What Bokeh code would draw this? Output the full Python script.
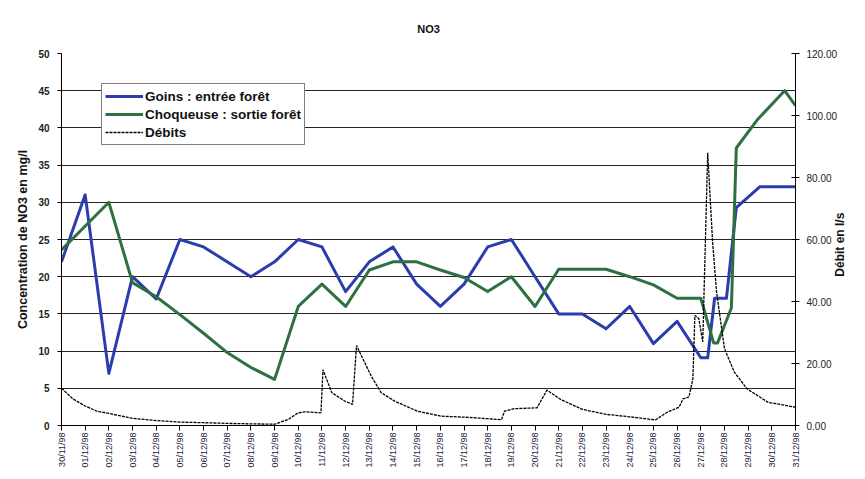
import math
import pandas as pd
from bokeh.plotting import figure
from bokeh.models import (Range1d, LinearAxis, FixedTicker, DatetimeTickFormatter,
                          PrintfTickFormatter)
from bokeh.embed import file_html
from bokeh.resources import INLINE

# ---------------- data ----------------
tick_days = list(pd.date_range("1998-11-30", "1998-12-31", freq="D"))
no3_ticks = [0, 5, 10, 15, 20, 25, 30, 35, 40, 45, 50]
flow_ticks = [0, 20, 40, 60, 80, 100, 120]

goins_time = ["1998-11-30 00:00", "1998-12-01 00:00", "1998-12-02 00:00", "1998-12-03 00:00",
              "1998-12-04 00:00", "1998-12-05 00:00", "1998-12-06 00:00", "1998-12-08 00:00",
              "1998-12-09 00:00", "1998-12-10 00:00", "1998-12-11 00:00", "1998-12-12 00:00",
              "1998-12-13 00:00", "1998-12-14 00:00", "1998-12-15 00:00", "1998-12-16 00:00",
              "1998-12-17 00:00", "1998-12-18 00:00", "1998-12-19 00:00", "1998-12-20 00:00",
              "1998-12-21 00:00", "1998-12-22 00:00", "1998-12-23 00:00", "1998-12-24 00:00",
              "1998-12-25 00:00", "1998-12-26 00:00", "1998-12-27 00:00", "1998-12-27 07:00",
              "1998-12-27 14:00", "1998-12-28 02:00", "1998-12-28 12:00", "1998-12-29 12:00",
              "1998-12-31 00:00"]
goins_no3 = [22, 31, 7, 20, 17, 25, 24, 20, 22, 25, 24, 18, 22, 24, 19, 16, 19, 24, 25, 20,
             15, 15, 13, 16, 11, 14, 9.1, 9.1, 17.1, 17.1, 29.3, 32.1, 32.1]

choq_time = ["1998-11-30 00:00", "1998-12-02 00:00", "1998-12-03 00:00", "1998-12-04 00:00",
             "1998-12-05 00:00", "1998-12-06 00:00", "1998-12-07 00:00", "1998-12-08 00:00",
             "1998-12-09 00:00", "1998-12-10 00:00", "1998-12-11 00:00", "1998-12-12 00:00",
             "1998-12-13 00:00", "1998-12-14 00:00", "1998-12-15 00:00", "1998-12-16 00:00",
             "1998-12-17 00:00", "1998-12-18 00:00", "1998-12-19 00:00", "1998-12-20 00:00",
             "1998-12-21 00:00", "1998-12-22 00:00", "1998-12-23 00:00", "1998-12-24 00:00",
             "1998-12-25 00:00", "1998-12-26 00:00", "1998-12-27 00:00", "1998-12-27 13:00",
             "1998-12-27 17:00", "1998-12-28 07:00", "1998-12-28 12:00", "1998-12-29 10:00",
             "1998-12-30 13:00", "1998-12-31 00:00"]
choq_no3 = [23.6, 30, 19.2, 17.3, 14.9, 12.4, 9.8, 7.8, 6.2, 16, 19, 16, 20.9, 22, 22, 20.9,
            19.9, 18, 20, 16, 21, 21, 21, 20, 18.9, 17.1, 17.1, 11.1, 11.1, 15.8, 37.3, 41.2,
            45, 43]

flow_time = ["1998-11-30 00:00", "1998-11-30 12:00", "1998-12-01 00:00", "1998-12-01 12:00",
             "1998-12-02 00:00", "1998-12-03 00:00", "1998-12-04 00:00", "1998-12-05 00:00",
             "1998-12-06 00:00", "1998-12-07 05:00", "1998-12-09 00:00", "1998-12-09 14:00",
             "1998-12-10 00:00", "1998-12-10 07:00", "1998-12-10 23:00", "1998-12-11 01:00",
             "1998-12-11 10:00", "1998-12-11 23:00", "1998-12-12 07:00", "1998-12-12 11:00",
             "1998-12-13 02:00", "1998-12-13 12:00", "1998-12-14 02:00", "1998-12-15 01:00",
             "1998-12-16 01:00", "1998-12-17 00:00", "1998-12-18 00:00", "1998-12-18 14:00",
             "1998-12-18 17:00", "1998-12-19 02:00", "1998-12-20 02:00", "1998-12-20 12:00",
             "1998-12-21 02:00", "1998-12-22 00:00", "1998-12-23 00:00", "1998-12-24 00:00",
             "1998-12-25 02:00", "1998-12-25 14:00", "1998-12-26 02:00", "1998-12-26 06:00",
             "1998-12-26 12:00", "1998-12-26 16:00", "1998-12-26 18:00", "1998-12-26 22:00",
             "1998-12-27 02:00", "1998-12-27 07:00", "1998-12-27 12:00", "1998-12-27 16:00",
             "1998-12-28 00:00", "1998-12-28 10:00", "1998-12-28 23:00", "1998-12-29 20:00",
             "1998-12-31 00:00"]
flow_ls = [12.0, 8.5, 6.3, 4.6, 3.9, 2.3, 1.6, 1.1, 0.9, 0.65, 0.4, 2.0, 4.1, 4.4, 4.1, 18.0,
           10.6, 7.9, 6.8, 25.8, 15.9, 10.6, 7.8, 4.6, 3.0, 2.7, 2.2, 1.9, 4.6, 5.4, 5.7, 11.4,
           8.4, 5.2, 3.6, 2.8, 1.8, 4.3, 5.9, 8.6, 9.2, 15.1, 35.5, 34.5, 27.0, 88.0, 59.0, 43.0,
           24.8, 17.2, 11.8, 7.5, 5.9]

right_title = "Débit en l/s"
right_title_at = 20.0   # where the right title starts, in mg/l units of the left scale

# ---------------- figure ----------------
FONT = "Liberation Sans"
epoch = pd.Timestamp("1970-01-01")
def to_ms(t):
    return (pd.Timestamp(t) - epoch) / pd.Timedelta("1ms")
tick_ms = [to_ms(d) for d in tick_days]

p = figure(width=857, height=470, x_axis_type="datetime",
           x_range=Range1d(start=tick_days[0], end=tick_days[-1]),
           y_range=Range1d(0, 50),
           output_backend="svg", toolbar_location=None,
           min_border_left=61, min_border_right=61, min_border_top=53, min_border_bottom=45,
           title="NO3")
p.extra_y_ranges = {"flow": Range1d(0, 120)}
p.outline_line_color = None
p.background_fill_color = "white"
p.border_fill_color = "white"

p.title.align = "center"
p.title.text_font = FONT
p.title.text_font_size = "11px"
p.title.text_font_style = "bold"
p.title.text_color = "#111111"
p.title.standoff = 38

# x axis
xa = p.xaxis[0]
xa.ticker = FixedTicker(ticks=tick_ms)
fmt = "%d/%m/%y"
xa.formatter = DatetimeTickFormatter(days=fmt, months=fmt, hours=fmt, years=fmt,
                                     minutes=fmt, hourmin=fmt, seconds=fmt,
                                     milliseconds=fmt, minsec=fmt)
xa.major_label_orientation = math.pi / 2
xa.major_label_text_font = FONT
xa.major_label_text_font_size = "9px"
xa.major_label_text_color = "#1a1a3a"
xa.major_label_standoff = 2
xa.major_tick_in = 0
xa.major_tick_out = 5
xa.minor_tick_out = 0
xa.minor_tick_in = 0
xa.axis_line_color = "black"
xa.major_tick_line_color = "black"

# left axis
ya = p.yaxis[0]
ya.ticker = FixedTicker(ticks=no3_ticks)
ya.axis_label = "Concentration de NO3 en mg/l"
ya.axis_label_text_font = FONT
ya.axis_label_text_font_size = "12.5px"
ya.axis_label_text_font_style = "bold"
ya.axis_label_text_color = "#111111"
ya.axis_label_standoff = 5
ya.major_label_text_font = FONT
ya.major_label_text_font_size = "10px"
ya.major_label_text_font_style = "bold"
ya.major_label_text_color = "#222222"
ya.major_label_standoff = 8
ya.major_tick_in = 0
ya.major_tick_out = 4
ya.minor_tick_out = 0
ya.minor_tick_in = 0
ya.axis_line_color = "black"

# right axis
ra = LinearAxis(y_range_name="flow", ticker=FixedTicker(ticks=flow_ticks),
                formatter=PrintfTickFormatter(format="%.2f"))
ra.major_label_text_font = FONT
ra.major_label_text_font_size = "10px"
ra.major_label_text_color = "#222222"
ra.major_label_standoff = 7
ra.major_tick_in = 4
ra.major_tick_out = 4
ra.minor_tick_in = 0
ra.minor_tick_out = 0
ra.axis_line_color = "black"
p.add_layout(ra, "right")

# right axis title (reads bottom-to-top as in the reference)
rt = LinearAxis(ticker=FixedTicker(ticks=[right_title_at]),
                major_label_overrides={right_title_at: right_title})
rt.major_label_orientation = math.pi / 2
rt.major_label_text_font = FONT
rt.major_label_text_font_size = "12px"
rt.major_label_text_font_style = "bold"
rt.major_label_text_color = "#111111"
rt.major_label_standoff = 0
rt.axis_line_color = None
rt.major_tick_line_color = None
rt.minor_tick_line_color = None
rt.major_tick_in = 0
rt.major_tick_out = 0
p.add_layout(rt, "right")

p.xgrid.visible = False
p.ygrid.ticker = FixedTicker(ticks=no3_ticks)
p.ygrid.grid_line_color = "black"
p.ygrid.grid_line_alpha = 0.85
p.ygrid.grid_line_width = 1

# series
gx = pd.to_datetime(goins_time)
cx = pd.to_datetime(choq_time)
fx = pd.to_datetime(flow_time)

p.line(gx, goins_no3, line_color="#2b3cad", line_width=3, line_join="round",
       legend_label="Goins : entrée forêt")
p.line(cx, choq_no3, line_color="#2f7040", line_width=3, line_join="round",
       legend_label="Choqueuse : sortie forêt")
p.line(fx, flow_ls, y_range_name="flow", line_color="black", line_width=1.3,
       line_dash="3 1", legend_label="Débits")

lg = p.legend[0]
lg.location = (40, 280)
lg.border_line_color = "black"
lg.border_line_width = 1
lg.background_fill_alpha = 1
lg.label_text_font = FONT
lg.label_text_font_size = "13.5px"
lg.label_text_font_style = "bold"
lg.label_text_color = "#111111"
lg.glyph_width = 38
lg.glyph_height = 18
lg.label_height = 18
lg.label_standoff = 2
lg.padding = 3
lg.spacing = 0
lg.margin = 0

open("out.html", "w").write(file_html(p, INLINE))
